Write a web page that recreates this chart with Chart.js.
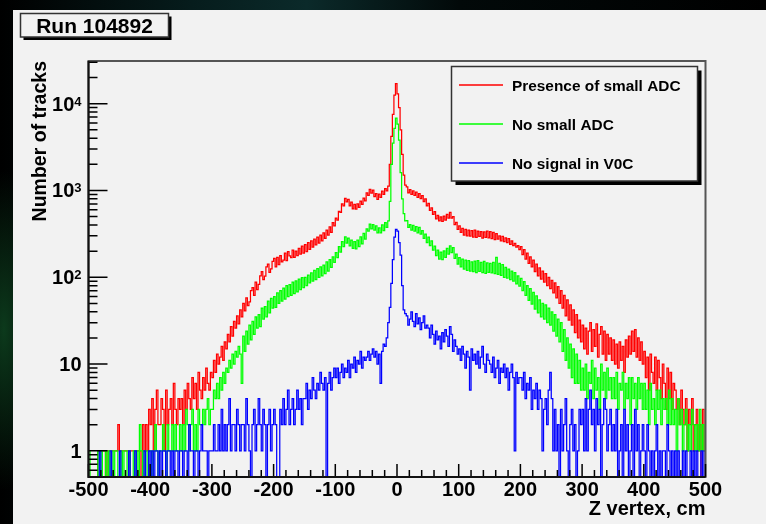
<!DOCTYPE html>
<html>
<head>
<meta charset="utf-8">
<title>Run 104892</title>
<script src="https://cdn.jsdelivr.net/npm/chart.js@4.4.1/dist/chart.umd.min.js"></script>
<style>
  html, body { margin: 0; padding: 0; }
  body {
    width: 766px; height: 524px; overflow: hidden; position: relative;
    background:
      radial-gradient(ellipse 40px 160px at 4px 330px, #0c3a1c 0%, rgba(0,0,0,0) 100%),
      linear-gradient(90deg, #000 0%, #061c1c 25%, #0b2a2a 40%, #020909 60%, #000 100%);
  }
  #panel { position: absolute; left: 13px; top: 10px; right: 0; bottom: 0; background: #f2f2f2; }
  #plot { position: absolute; left: 0; top: 0; }
</style>
</head>
<body>
<div id="panel"></div>
<canvas id="plot" width="766" height="524"></canvas>
<script>
// histogram binning (z vertex, cm)
const zMin = -500;
const zMax = 500;
const binWidth = 2.5;
const xMajorStep = 100;
const xMinorStep = 20;
const yMin = 0.5;
const yMax = 31000;
const yDecades = [1, 10, 100, 1000, 10000];

const runTitle = 'Run 104892';
const seriesLabels = ['Presence of small ADC', 'No small ADC', 'No signal in V0C'];
const seriesColors = ['#ff0000', '#00ff00', '#0000ff'];

// counts per bin, 20 bins (50 cm) per row
const presenceSmallAdc = [
  0,0,0,0,0,0,1,1,1,1,1,0,1,1,1,1,1,1,1,2,                     // -500..-450
  1,1,1,1,1,1,0,1,1,1,1,1,1,1,0,2,1,2,1,3,                     // -450..-400
  2,4,1,3,5,2,2,4,3,1,5,2,3,4,2,6,3,2,4,3,                     // -400..-350
  4,2,5,3,6,4,3,7,4,6,3,8,5,4,7,5,9,6,5,8,                     // -350..-300
  7,11,8,13,10,12,16,11,18,15,22,18,27,21,31,26,36,29,42,35,   // -300..-250
  50,41,58,47,52,70,76,62,88,72,83,104,116,94,103,132,142,114,125,152,
  165,132,170,140,178,150,158,190,155,198,176,168,205,170,200,178,215,185,228,190,
  238,198,250,210,262,222,275,236,290,248,305,262,325,280,350,305,380,330,425,390,
  480,455,575,560,700,665,810,740,790,665,735,615,690,610,700,640,755,690,815,760,
  940,880,1030,930,1010,850,920,790,905,830,980,900,1050,990,1120,2000,4200,7500,12500,17000,
  13000,9000,5000,2600,1500,1150,1100,940,1020,900,990,875,955,835,920,805,870,745,800,665,
  710,590,630,530,570,470,515,445,495,440,505,455,530,480,560,480,500,405,428,355,
  390,330,365,305,355,300,350,298,345,290,348,288,340,295,336,282,334,288,340,285,
  335,278,328,272,318,275,300,262,295,258,285,250,278,240,262,232,245,222,232,208,
  225,182,208,162,190,145,172,132,158,116,142,104,128,95,118,88,110,80,100,74,
  92,66,86,58,78,50,70,44,62,36,55,32,48,28,42,23,37,20,32,18,
  28,15,26,13,24,30,14,25,16,29,12,22,27,13,24,11,22,13,20,11,
  19,10,17,9,18,11,16,8,19,12,21,13,24,14,25,12,20,11,18,10,
  14,7,12,5,13,8,6,12,5,11,7,4,10,6,3,9,4,8,3,6,
  5,3,4,2,5,3,2,4,1,3,2,4,1,2,3,1,2,0,3,1                      // 450..500
];

const noSmallAdc = [
  1,0,0,0,0,0,1,0,1,0,0,1,0,1,0,1,0,1,1,0,
  0,1,0,1,1,0,1,0,0,1,0,1,0,2,1,0,1,1,0,1,
  1,0,1,2,1,0,1,1,2,1,0,2,1,1,2,1,2,1,1,2,
  1,2,1,3,2,1,2,3,1,2,1,3,2,2,3,2,3,4,2,3,
  3,5,4,6,4,7,5,8,6,9,8,11,9,13,10,14,12,16,13,6,
  21,14,24,17,28,19,31,22,35,26,37,27,44,33,46,35,53,39,57,44,
  60,45,66,50,70,53,75,56,80,60,82,62,88,65,91,68,95,72,99,76,
  100,80,106,86,112,90,120,94,126,100,132,104,138,110,150,118,160,130,172,148,
  192,168,225,195,258,225,292,248,282,230,268,215,258,212,268,225,292,243,320,275,
  360,340,410,360,405,350,390,325,370,325,400,345,425,375,445,750,2000,3500,5200,6800,
  5800,3800,1600,800,540,445,450,375,405,350,395,340,382,325,375,315,345,280,315,250,
  290,232,262,205,228,178,205,162,195,160,202,170,215,185,230,192,220,165,185,142,
  168,132,162,124,158,120,155,118,150,116,153,113,155,117,148,113,152,111,146,114,
  145,112,148,110,170,108,145,105,140,100,130,98,124,94,118,90,113,84,104,79,
  97,70,89,62,80,54,74,49,67,43,61,39,55,35,50,33,48,30,44,28,
  40,24,37,21,33,18,30,14,25,11,20,9,17,7,15,6,13,6,11,5,
  9,5,10,4,8,6,11,4,9,5,7,3,10,5,8,4,9,5,7,4,
  7,4,8,3,6,5,8,3,6,4,7,2,7,4,6,3,7,4,6,3,
  6,3,5,2,6,3,4,2,5,3,5,2,4,3,4,2,5,2,4,2,
  3,1,4,2,3,1,2,3,1,2,1,3,2,1,2,1,3,1,2,1
];

const noSignalV0C = [
  0,0,0,0,0,0,0,1,0,0,0,0,0,0,1,0,0,0,0,0,
  1,0,0,0,0,0,1,0,0,0,1,0,0,0,0,0,1,0,0,1,
  0,1,0,1,1,0,1,0,1,1,0,1,1,0,1,0,1,1,0,1,
  1,0,1,1,0,2,1,1,0,1,1,0,1,2,1,1,1,0,1,1,
  1,2,1,1,2,1,3,1,2,1,2,4,1,2,2,1,3,2,1,2,
  2,1,4,2,1,0,2,3,1,2,4,2,1,3,2,0,2,3,1,2,
  3,2,0,0,3,2,4,2,3,5,2,3,4,2,3,5,3,4,2,4,
  4,6,3,5,4,7,5,4,6,5,8,6,5,7,0,6,8,5,7,9,
  7,9,6,8,10,7,9,8,11,7,10,9,12,8,11,10,14,9,12,11,
  12,14,11,13,15,12,14,10,13,6,14,17,16,20,30,45,85,160,290,355,
  340,250,180,80,42,38,36,28,33,40,31,27,38,29,34,25,30,36,26,28,
  26,20,28,22,17,24,19,21,15,23,18,25,21,16,27,22,14,19,16,13,
  15,11,16,13,9,14,12,5,15,11,13,10,14,9,12,16,10,8,13,11,
  10,8,12,7,9,11,6,9,8,10,7,9,5,8,10,7,1,8,6,7,
  7,5,8,4,6,5,7,3,5,4,6,3,5,4,1,3,4,2,5,8,
  4,1,3,1,2,0,3,1,2,4,1,0,2,3,1,2,0,1,3,2,
  3,1,4,1,3,5,2,3,1,4,2,3,0,2,4,3,1,2,3,1,
  2,1,3,0,1,2,0,3,1,2,0,1,2,0,3,1,2,0,1,2,
  1,0,2,1,0,1,0,1,2,0,1,0,1,1,0,2,1,0,1,0,
  1,0,1,0,0,1,0,1,0,0,1,0,1,0,1,0,0,1,0,1
];

// empty bins sit on the frame floor like in ROOT
function toPoints(counts) {
  return counts.map((c, i) => ({ x: zMin + (i + 0.5) * binWidth, y: c > 0 ? c : yMin }));
}

const FONT = "'Liberation Sans', Arial, Helvetica, sans-serif";
Chart.defaults.font.family = FONT;
Chart.defaults.font.weight = 'bold';
Chart.defaults.color = '#000';

// ROOT style frame, inward ticks, log labels
const rootAxes = {
  id: 'rootAxes',
  afterDatasetsDraw(chart) {
    const { ctx, chartArea: a, scales: { x, y } } = chart;
    ctx.save();
    ctx.strokeStyle = '#555';
    ctx.lineWidth = 2;
    ctx.strokeRect(a.left, a.top, a.right - a.left, a.bottom - a.top);

    ctx.strokeStyle = '#000';
    ctx.lineWidth = 1.5;
    ctx.beginPath();
    for (let v = zMin; v <= zMax; v += xMinorStep) {
      const px = x.getPixelForValue(v);
      const len = (v - zMin) % xMajorStep === 0 ? 13 : 7;
      ctx.moveTo(px, a.bottom);
      ctx.lineTo(px, a.bottom - len);
    }
    for (let e = -1; e <= 4; e++) {
      for (let m = 1; m <= 9; m++) {
        const v = m * Math.pow(10, e);
        if (v < yMin || v > yMax) continue;
        const py = y.getPixelForValue(v);
        ctx.moveTo(a.left, py);
        ctx.lineTo(a.left + (m === 1 ? 19 : 9), py);
      }
    }
    ctx.stroke();

    ctx.lineWidth = 2;
    ctx.strokeStyle = '#111';
    ctx.beginPath();
    ctx.moveTo(a.left, a.top);
    ctx.lineTo(a.left, a.bottom);
    ctx.lineTo(a.right, a.bottom);
    ctx.stroke();

    // y labels: 1, 10, 10^2 ...
    ctx.fillStyle = '#000';
    ctx.textBaseline = 'alphabetic';
    const labelRight = a.left - 8;
    yDecades.forEach(v => {
      const py = y.getPixelForValue(v);
      const exp = Math.round(Math.log10(v));
      const base = exp === 0 ? '1' : '10';
      ctx.font = 'bold 20px ' + FONT;
      if (exp < 2) {
        ctx.textAlign = 'right';
        ctx.fillText(base, labelRight + 1, py + 7);
      } else {
        ctx.font = 'bold 13px ' + FONT;
        const supW = ctx.measureText(String(exp)).width;
        ctx.textAlign = 'left';
        ctx.fillText(String(exp), labelRight - supW + 1, py + 2);
        ctx.font = 'bold 20px ' + FONT;
        ctx.textAlign = 'right';
        ctx.fillText(base, labelRight - supW + 1, py + 7);
      }
    });
    ctx.restore();
  }
};

function shadowBox(ctx, x, y, w, h, off) {
  ctx.fillStyle = '#000';
  ctx.fillRect(x + off, y + off, w, h);
  ctx.fillStyle = '#f2f2f2';
  ctx.fillRect(x, y, w, h);
  ctx.strokeStyle = '#333';
  ctx.lineWidth = 1.5;
  ctx.strokeRect(x, y, w, h);
}

const rootBoxes = {
  id: 'rootBoxes',
  afterDraw(chart) {
    const ctx = chart.ctx;
    ctx.save();
    // title box
    shadowBox(ctx, 20.5, 13.5, 148, 23.5, 3);
    ctx.fillStyle = '#000';
    ctx.font = 'bold 21px ' + FONT;
    ctx.textAlign = 'center';
    ctx.textBaseline = 'alphabetic';
    ctx.fillText(runTitle, 94.5, 33);

    // legend box
    shadowBox(ctx, 451.5, 66.5, 246, 114.5, 4);
    ctx.font = 'bold 15.4px ' + FONT;
    ctx.textAlign = 'left';
    chart.data.datasets.slice().sort((p, q) => q.order - p.order).forEach((ds, i) => {
      const ly = 85 + i * 39;
      ctx.strokeStyle = ds.borderColor;
      ctx.lineWidth = 1.5;
      ctx.beginPath();
      ctx.moveTo(459, ly);
      ctx.lineTo(503, ly);
      ctx.stroke();
      ctx.fillStyle = '#000';
      ctx.fillText(ds.label, 512, ly + 5.5);
    });
    ctx.restore();
  }
};

const allCounts = [presenceSmallAdc, noSmallAdc, noSignalV0C];

new Chart(document.getElementById('plot'), {
  type: 'line',
  data: {
    datasets: allCounts.map((counts, i) => ({
      label: seriesLabels[i],
      data: toPoints(counts),
      borderColor: seriesColors[i],
      borderWidth: 1.25,
      stepped: 'middle',
      pointRadius: 0,
      fill: false,
      order: 3 - i
    }))
  },
  options: {
    responsive: false,
    animation: false,
    devicePixelRatio: 1,
    layout: { padding: { left: 0, top: 61, right: 60.5, bottom: 0 } },
    plugins: { legend: { display: false }, tooltip: { enabled: false } },
    scales: {
      x: {
        type: 'linear',
        min: zMin,
        max: zMax,
        afterFit(s) { s.height = 47; },
        grid: { display: false, drawTicks: false },
        border: { display: false },
        ticks: { stepSize: xMajorStep, font: { size: 20, weight: 'bold' }, color: '#000', padding: 1, maxRotation: 0, autoSkip: false },
        title: { display: true, text: 'Z vertex, cm', align: 'end', color: '#000', font: { size: 20, weight: 'bold' }, padding: { top: 0, bottom: 3 } }
      },
      y: {
        type: 'logarithmic',
        min: yMin,
        max: yMax,
        afterFit(s) { s.width = 88.5; },
        grid: { display: false, drawTicks: false },
        border: { display: false },
        ticks: { display: false },
        title: { display: true, text: 'Number of tracks', align: 'end', color: '#000', font: { size: 19.5, weight: 'bold' }, padding: { top: 29, bottom: 0 } }
      }
    }
  },
  plugins: [rootAxes, rootBoxes]
});
</script>
</body>
</html>
